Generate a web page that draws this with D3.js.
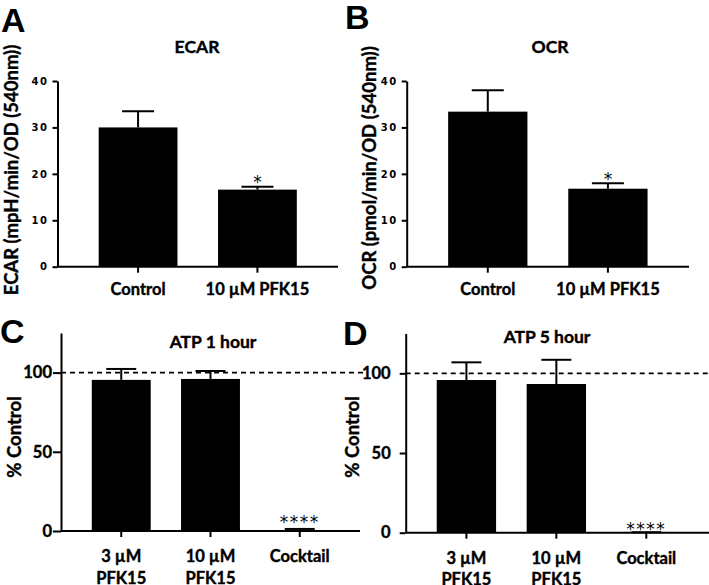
<!DOCTYPE html>
<html>
<head>
<meta charset="utf-8">
<script src="https://cdn.jsdelivr.net/npm/d3@7"></script>
<style>
  body { margin: 0; background: #fff; }
  svg text { font-family: Lato, "Open Sans", sans-serif; font-weight: bold; fill: #000; }
  svg text.heavy { stroke: #000; stroke-width: 0.4px; }
  .domain, .tick line { stroke: #000; stroke-width: 2px; }
</style>
</head>
<body>
<script>
// data
var seahorseCats = ["Control", "10 µM PFK15"];
var ecarMean = [30.0, 16.6];
var ecarErr = [3.5, 0.6];
var ecarSig = ["", "*"];
var ocrMean = [33.4, 16.8];
var ocrErr = [4.6, 1.2];
var ocrSig = ["", "*"];

var atpCats = ["3 µM|PFK15", "10 µM|PFK15", "Cocktail"];
var atp1Mean = [95.4, 96.0, 0.3];
var atp1Err = [6.9, 5.0, 1.0];
var atp5Mean = [95.8, 93.3, 0.1];
var atp5Err = [11.1, 15.2, 0.2];
var atpSig = ["", "", "****"];

var seahorseTicks = [0, 10, 20, 30, 40];
var atpTicks = [0, 50, 100];

var svg = d3.select("body").append("svg")
    .attr("width", 709)
    .attr("height", 585);

function drawPanel(p) {
    var g = svg.append("g");
    var data = p.cats.map(function(c, i) {
        return {cat: c, mean: p.mean[i], err: p.err[i], sig: p.sig[i]};
    });

    var x = d3.scaleBand()
        .domain(p.cats)
        .range(p.xr)
        .paddingInner(0.34)
        .paddingOuter(0.345);
    var y = d3.scaleLinear()
        .domain(p.yd)
        .range(p.yr);

    // dashed 100% line
    if (p.dash) {
        g.append("line")
            .attr("x1", p.xr[0]).attr("x2", p.dashEnd)
            .attr("y1", y(100)).attr("y2", y(100))
            .attr("stroke", "#000").attr("stroke-width", 1.6)
            .attr("stroke-dasharray", "5,4");
    }

    // bars
    g.selectAll(".bar")
        .data(data)
        .enter().append("rect")
        .attr("class", "bar")
        .attr("x", function(d) { return x(d.cat); })
        .attr("y", function(d) { return y(d.mean); })
        .attr("width", x.bandwidth())
        .attr("height", function(d) { return y(0) - y(d.mean); })
        .attr("fill", "#000");

    // error bars (upper only)
    var eb = g.selectAll(".err")
        .data(data)
        .enter().append("g")
        .attr("class", "err");
    eb.append("line")
        .attr("x1", function(d) { return x(d.cat) + x.bandwidth() / 2; })
        .attr("x2", function(d) { return x(d.cat) + x.bandwidth() / 2; })
        .attr("y1", function(d) { return y(d.mean); })
        .attr("y2", function(d) { return y(d.mean + d.err); })
        .attr("stroke", "#000").attr("stroke-width", 2);
    eb.append("line")
        .attr("x1", function(d) { return x(d.cat) + x.bandwidth() / 2 - p.cap; })
        .attr("x2", function(d) { return x(d.cat) + x.bandwidth() / 2 + p.cap; })
        .attr("y1", function(d) { return y(d.mean + d.err); })
        .attr("y2", function(d) { return y(d.mean + d.err); })
        .attr("stroke", "#000").attr("stroke-width", 2);

    // significance stars
    g.selectAll(".sig")
        .data(data)
        .enter().append("text")
        .attr("class", "sig")
        .attr("x", function(d) { return x(d.cat) + x.bandwidth() / 2; })
        .attr("y", function(d) { return y(d.mean + d.err) + p.sigDy; })
        .attr("text-anchor", "middle")
        .style("font-family", "'DejaVu Sans', sans-serif")
        .style("font-size", "17px")
        .style("font-weight", "normal")
        .style("letter-spacing", p.sigLs)
        .text(function(d) { return d.sig; });

    // axes
    var xAxis = d3.axisBottom(x).tickSize(6).tickSizeOuter(0).tickFormat("");
    var gx = g.append("g")
        .attr("transform", "translate(0," + y(0) + ")")
        .call(xAxis);
    gx.select(".domain").attr("d", "M" + p.xr[0] + ",0H" + p.xEnd);

    var yAxis = d3.axisLeft(y).tickValues(p.ticks).tickSize(p.tickSize)
        .tickSizeOuter(0).tickPadding(p.tickPad);
    var gy = g.append("g")
        .attr("transform", "translate(" + p.xr[0] + ",0)")
        .call(yAxis);
    gy.selectAll(".tick text")
        .attr("class", p.tickHeavy ? "heavy" : null)
        .style("font-family", p.tickFont)
        .style("font-size", p.tickFs)
        .style("letter-spacing", p.tickLs)
        .style("font-weight", "bold");

    // category labels
    var lab = g.selectAll(".catlab")
        .data(data)
        .enter().append("text")
        .attr("class", "catlab heavy")
        .attr("x", function(d) { return x(d.cat) + x.bandwidth() / 2; })
        .attr("y", y(0) + p.labDy)
        .attr("text-anchor", "middle")
        .style("font-size", "16.5px");
    lab.selectAll("tspan")
        .data(function(d) { return d.cat.split("|").map(function(s) { return {s: s, x: x(d.cat) + x.bandwidth() / 2}; }); })
        .enter().append("tspan")
        .attr("x", function(t) { return t.x; })
        .attr("dy", function(t, i) { return i ? 21.6 : 0; })
        .text(function(t) { return t.s; });

    // title
    g.append("text")
        .attr("class", "heavy")
        .attr("x", p.title[1]).attr("y", p.title[2])
        .attr("text-anchor", "middle")
        .style("font-size", "17.5px")
        .text(p.title[0]);

    // y label
    g.append("text")
        .attr("class", "heavy")
        .attr("transform", "translate(" + p.ylab[1] + "," + p.ylab[2] + ") rotate(-90)")
        .attr("text-anchor", "middle")
        .attr("dy", "0.35em")
        .style("font-size", p.ylabFs)
        .text(p.ylab[0]);

    // panel letter
    svg.append("text")
        .attr("x", p.letter[1]).attr("y", p.letter[2])
        .style("font-family", "'Liberation Sans', Arial, sans-serif")
        .style("font-size", "34px")
        .text(p.letter[0]);
}

var seahorseStyle = {
    ticks: seahorseTicks, tickSize: 5, tickPad: 4, tickHeavy: false,
    tickFont: "'DejaVu Sans', sans-serif", tickFs: "10px", tickLs: "1.5px",
    cap: 16, sigLs: "0px", labDy: 28.5, ylabFs: "18.5px", dash: false
};
var atpStyle = {
    ticks: atpTicks, tickFont: "Lato, sans-serif", tickFs: "16.5px", tickLs: "0px",
    tickHeavy: true, cap: 15, sigLs: "1.5px", labDy: 31, ylabFs: "18.5px", dash: true
};

drawPanel(Object.assign({}, seahorseStyle, {
    cats: seahorseCats, mean: ecarMean, err: ecarErr, sig: ecarSig, sigDy: 1.5,
    xr: [57.5, 338], xEnd: 338, yd: [0, 40], yr: [266.7, 81],
    title: ["ECAR", 197, 53],
    ylab: ["ECAR (mpH/min/OD (540nm))", 12, 170],
    letter: ["A", 1, 32]
}));
drawPanel(Object.assign({}, seahorseStyle, {
    cats: seahorseCats, mean: ocrMean, err: ocrErr, sig: ocrSig, sigDy: 2,
    xr: [406.7, 689], xEnd: 689, yd: [0, 40], yr: [266.7, 81],
    title: ["OCR", 550, 53],
    ylab: ["OCR (pmol/min/OD (540nm))", 370, 168],
    letter: ["B", 345, 29]
}));
drawPanel(Object.assign({}, atpStyle, {
    cats: atpCats, mean: atp1Mean, err: atp1Err, sig: atpSig, sigDy: -1,
    xr: [61, 360], xEnd: 360, dashEnd: 365, yd: [0, 125], yr: [531, 333],
    tickSize: 8, tickPad: 1,
    title: ["ATP 1 hour", 213, 348],
    ylab: ["% Control", 15, 437],
    letter: ["C", 0, 343]
}));
drawPanel(Object.assign({}, atpStyle, {
    cats: atpCats, mean: atp5Mean, err: atp5Err, sig: atpSig, sigDy: 3,
    xr: [405.7, 707], xEnd: 709, dashEnd: 709, yd: [0, 125], yr: [532.7, 333.5],
    tickSize: 6, tickPad: 9,
    title: ["ATP 5 hour", 547, 343],
    ylab: ["% Control", 353, 437],
    letter: ["D", 343, 345]
}));
</script>
</body>
</html>
